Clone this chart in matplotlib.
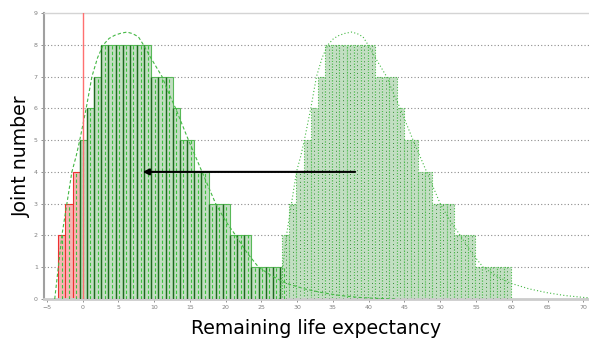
"""Remaining life expectancy of joints: current vs. shifted distribution."""

import matplotlib
matplotlib.use("Agg")
import matplotlib.pyplot as plt
import numpy as np

# Joint counts per 1-year bin (same histogram shape for both states)
left_heights = [2, 3, 4, 5, 6, 7, 8, 8, 8, 8, 8, 8, 8, 7, 7, 7,
                6, 5, 5, 4, 4, 3, 3, 3, 2, 2, 2, 1, 1, 1, 1, 1]
right_heights = [2, 3, 4, 5, 6, 7, 8, 8, 8, 8, 8, 8, 8, 7, 7, 7,
                 6, 5, 5, 4, 4, 3, 3, 3, 2, 2, 2, 1, 1, 1, 1, 1]
left_start = -3.4    # left edge of first bin, years
right_start = 27.9

# Fitted curves
left_curve_x = [-3.9, -2.9, -2.2, -1.5, -0.9, -0.4, 0.5, 1.3, 2.1, 2.9, 3.7, 4.5, 5.3,
                6.2, 7.0, 7.8, 8.5, 9.5, 10.3, 11.1, 12.0, 13.0, 14.8, 16.7, 18.6,
                20.0, 21.4, 23.0, 24.6, 26.5, 28.4, 31.0, 33.5, 36.0, 38.6, 41.0, 44.0]
left_curve_y = [0.0, 2.0, 3.0, 4.0, 4.5, 5.0, 6.0, 7.0, 7.6, 8.0, 8.2, 8.3, 8.36,
                8.4, 8.35, 8.25, 8.0, 7.6, 7.3, 7.0, 6.5, 6.0, 5.0, 4.0, 3.0,
                2.45, 2.0, 1.45, 1.0, 0.72, 0.5, 0.32, 0.2, 0.11, 0.05, 0.02, 0.0]
right_curve_x = [27.5, 28.5, 29.2, 29.9, 30.5, 31.0, 31.9, 32.7, 33.5, 34.3, 35.1, 35.9, 36.7,
                 37.6, 38.4, 39.2, 39.9, 40.9, 41.7, 42.5, 43.4, 44.4, 46.2, 48.1, 50.0,
                 51.4, 52.8, 54.4, 56.0, 57.9, 59.8, 62.4, 64.9, 67.4, 70.0, 72.0]
right_curve_y = [0.0, 2.0, 3.0, 4.0, 4.5, 5.0, 6.0, 7.0, 7.6, 8.0, 8.2, 8.3, 8.36,
                 8.4, 8.35, 8.25, 8.0, 7.6, 7.3, 7.0, 6.5, 6.0, 5.0, 4.0, 3.0,
                 2.45, 2.0, 1.45, 1.0, 0.72, 0.5, 0.32, 0.2, 0.11, 0.05, 0.02]

arrow_from = (38.1, 4)
arrow_to = (8.4, 4)

x_ticks = list(range(-5, 75, 5))
y_ticks = list(range(0, 10))

FILL = "#c2dec2"
GRID = "#8c8c8c"

fig = plt.figure(figsize=(5.89, 3.44), dpi=100)
ax = fig.add_axes([44 / 589, 1 - 299 / 344, 545 / 589, 286 / 344])

# dotted horizontal gridlines
for y in y_ticks[1:-1]:
    ax.axhline(y, color=GRID, lw=0.8, ls=(0, (1, 2)), zorder=0)

# left (current) distribution
left_x = left_start + np.arange(len(left_heights))
is_neg = left_x + 0.5 < 0
left_colors = np.where(is_neg, "#f6b4b4", FILL)
left_edges = np.where(is_neg, "#ee3030", "#58b858")
ax.bar(left_x, left_heights, width=1.0, align="edge", color=left_colors,
       edgecolor=left_edges, linewidth=0.8, zorder=2)
ax.vlines(left_x[~is_neg], 0, np.array(left_heights)[~is_neg], colors="#1d6a1d",
          lw=1.0, zorder=3)
ax.vlines(left_x + 0.5, 0, left_heights, colors="#3cc43c", lw=0.8,
          linestyles=(0, (3, 2)), zorder=3)

# right (future) distribution
right_x = right_start + np.arange(len(right_heights))
ax.bar(right_x, right_heights, width=1.0, align="edge", color=FILL,
       edgecolor="#4cbb4c", linewidth=0.8, linestyle=(0, (1, 1.5)), zorder=2)
ax.vlines(right_x + 0.5, 0, right_heights, colors="#2e8a2e", lw=0.7,
          linestyles=(0, (1, 3)), zorder=3)

# fitted curves
ax.plot(left_curve_x, left_curve_y, color="#44b844", lw=0.8, ls=(0, (3, 2)), zorder=4)
ax.plot(right_curve_x, right_curve_y, color="#44b844", lw=0.8, ls=(0, (1, 2)), zorder=4)

# zero line
ax.axvline(0, color="#ff7070", lw=1.0, zorder=5)

ax.annotate("", xy=arrow_to, xytext=arrow_from,
            arrowprops=dict(arrowstyle="-|>", color="black", lw=1.5,
                            mutation_scale=9, shrinkA=0, shrinkB=0), zorder=6)

ax.set_xlim(-5.4, 70.8)
ax.set_ylim(0, 9)
ax.set_xticks(x_ticks)
ax.set_yticks(y_ticks)
ax.tick_params(labelsize=4.5, labelcolor="#808080", color="#808080",
               length=2, width=0.6, pad=2.5)

ax.spines["right"].set_visible(False)
ax.spines["top"].set_color("#d4d4d4")
ax.spines["top"].set_linewidth(1.0)
ax.spines["left"].set_color("#a0a0a0")
ax.spines["left"].set_linewidth(1.5)
ax.spines["bottom"].set_color("#cccccc")
ax.spines["bottom"].set_linewidth(2.0)

ax.set_xlabel("Remaining life expectancy", family="DejaVu Sans", fontsize=13.6,
              labelpad=6)
ax.set_ylabel("Joint number", family="DejaVu Sans", fontsize=13.6, labelpad=2)

fig.savefig("out.png", dpi=100)
plt.close(fig)
